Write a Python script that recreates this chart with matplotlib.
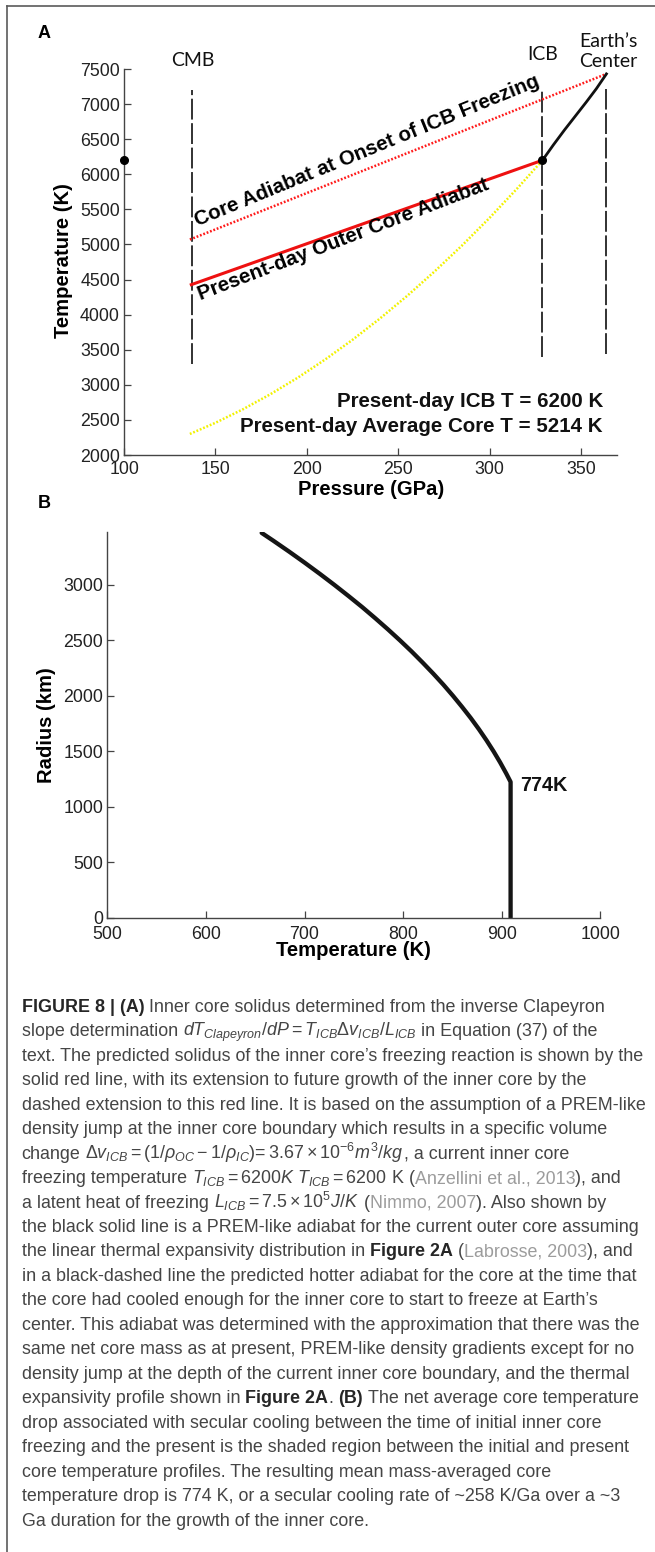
import matplotlib
matplotlib.use('Agg')
import matplotlib.pyplot as plt
from matplotlib.lines import Line2D
from matplotlib.font_manager import FontProperties

plt.rcParams['font.family'] = ['Liberation Sans', 'DejaVu Sans']
plt.rcParams['mathtext.fontset'] = 'custom'
plt.rcParams['mathtext.rm'] = 'Liberation Sans'
plt.rcParams['mathtext.it'] = 'Liberation Sans:italic'
plt.rcParams['mathtext.bf'] = 'Liberation Sans:bold'
plt.rcParams['lines.scale_dashes'] = False

W, H, DPI = 655, 1552, 100

# ---------------- Panel A data ----------------
pressure_ticks = [100, 150, 200, 250, 300, 350]
temp_ticks_A = [2000, 2500, 3000, 3500, 4000, 4500, 5000, 5500, 6000, 6500, 7000, 7500]
boundary_names = ['CMB', 'ICB', 'Earth\u2019s\nCenter']
boundary_P = [137, 329, 364]
boundary_Tlow = [3300, 3400, 3440]
boundary_Thigh = [7200, 7200, 7220]
label_P = [137.7, 329.1, 365.2]
label_T = [7628, 7700, 7747]

present_P = [136, 329]
present_T = [4420, 6200]
onset_P = [136, 364]
onset_T = [5070, 7430]
solidus_P = [136, 150, 165, 180, 195, 210, 225, 240, 255, 270, 285, 300, 315, 329]
solidus_T = [2300, 2459, 2651, 2865, 3101, 3360, 3641, 3944, 4269, 4617, 4986, 5378, 5793, 6200]
inner_P = [329, 335, 341, 347, 353, 358.5, 364]
inner_T = [6200, 6420, 6630, 6830, 7030, 7220, 7430]
dot_P = [329, 100]
dot_T = [6200, 6200]

# ---------------- Panel B data ----------------
tempB_ticks = [500, 600, 700, 800, 900, 1000]
radius_ticks = [0, 500, 1000, 1500, 2000, 2500, 3000]
drop_r = [0, 1224, 1300, 1400, 1500, 1600, 1700, 1800, 1900, 2000, 2100, 2200, 2300, 2400,
          2500, 2600, 2700, 2800, 2900, 3000, 3100, 3200, 3300, 3400, 3469]
drop_T = [909, 909, 904.6, 898.4, 891.7, 884.5, 876.8, 868.6, 859.8, 850.6, 840.9, 830.6,
          819.8, 808.6, 796.8, 784.5, 771.7, 758.5, 744.6, 730.3, 715.5, 700.2, 684.4,
          668.1, 656.5]

fig = plt.figure(figsize=(W / DPI, H / DPI), dpi=DPI)

def fx(px):
    return px / W

def fy(py):
    return 1 - py / H

TICKC = '#222222'
SPC = '#444444'

def style_axes(ax, xpad, ypad):
    for s in ['top', 'right']:
        ax.spines[s].set_visible(False)
    for s in ['left', 'bottom']:
        ax.spines[s].set_color(SPC)
        ax.spines[s].set_linewidth(1.0)
    ax.tick_params(direction='in', length=5, width=0.9, color=SPC, labelsize=12.8,
                   labelcolor=TICKC)
    ax.tick_params(axis='x', pad=xpad)
    ax.tick_params(axis='y', pad=ypad)

# ---------------- Panel A ----------------
axA = fig.add_axes([fx(124.1), fy(455), fx(617.4) - fx(124.1), fy(69) - fy(455)])
axA.set_xlim(100, 370)
axA.set_ylim(2000, 7500)
axA.set_xticks(pressure_ticks)
axA.set_yticks(temp_ticks_A)
style_axes(axA, 4.5, 3.0)

for p, lo, hi in zip(boundary_P, boundary_Tlow, boundary_Thigh):
    axA.plot([p, p], [lo, hi], color='#222222', lw=1.3, linestyle=(0, (15, 2.6)))

axA.plot(solidus_P, solidus_T, color='#f2f200', lw=1.8, linestyle=(0, (1.3, 1.3)))
axA.plot(onset_P, onset_T, color='#ff1a1a', lw=1.8, linestyle=(0, (1.3, 1.3)))
axA.plot(present_P, present_T, color='#ee1111', lw=2.2, solid_capstyle='butt')
axA.plot(inner_P, inner_T, color='#111111', lw=2.0)
axA.plot(dot_P, dot_T, 'o', color='black', ms=5.5, clip_on=False, zorder=5)

for name, p, t in zip(boundary_names, label_P, label_T):
    axA.text(p, t, name, ha='center', va='center', fontsize=14, family=['Lato', 'Liberation Sans'],
             color='#111111', linespacing=1.25)

axA.text(139.9, 5253, 'Core Adiabat at Onset of ICB Freezing', rotation=22.3,
         rotation_mode='anchor', ha='left', va='baseline', fontsize=14.8, fontweight='bold')
axA.text(142.0, 4199, 'Present-day Outer Core Adiabat', rotation=21.0,
         rotation_mode='anchor', ha='left', va='baseline', fontsize=14.8, fontweight='bold')
axA.text(362.1, 2759, 'Present-day ICB T = 6200 K', ha='right', va='center',
         fontsize=14.8, fontweight='bold', color='#111111')
axA.text(362.1, 2403, 'Present-day Average Core T = 5214 K', ha='right', va='center',
         fontsize=14.8, fontweight='bold', color='#111111')

axA.set_xlabel('Pressure (GPa)', fontsize=14.6, fontweight='bold', va='center')
axA.xaxis.set_label_coords(0.5, (455 - 489.3) / 386)
axA.set_ylabel('Temperature (K)', fontsize=14.6, fontweight='bold', va='center')
axA.yaxis.set_label_coords((63.2 - 124.1) / 493.3, 0.5026)

# ---------------- Panel B ----------------
axB = fig.add_axes([fx(107.4), fy(917.7), fx(600.3) - fx(107.4), fy(531.7) - fy(917.7)])
axB.set_xlim(500, 1000)
axB.set_ylim(0, 3480)
axB.set_xticks(tempB_ticks)
axB.set_yticks(radius_ticks)
style_axes(axB, 6.0, 3.0)
axB.plot(drop_T, drop_r, color='#151515', lw=3.1, solid_capstyle='round', solid_joinstyle='round')
axB.text(918.7, 1194, '774K', ha='left', va='center', fontsize=14.2, fontweight='bold',
         color='#111111')
axB.set_xlabel('Temperature (K)', fontsize=14.6, fontweight='bold', va='center')
axB.xaxis.set_label_coords(0.5, (917.7 - 951) / 386)
axB.set_ylabel('Radius (km)', fontsize=14.6, fontweight='bold', va='center')
axB.yaxis.set_label_coords((46.0 - 107.4) / 492.9, 0.4995)

# panel letters
fig.text(fx(43.9), fy(33.3), 'A', ha='center', va='center', fontsize=13, fontweight='bold')
fig.text(fx(43.9), fy(503.3), 'B', ha='center', va='center', fontsize=13, fontweight='bold')

# frame lines (top and left)
fig.add_artist(Line2D([fx(7.3), 1.0], [fy(6), fy(6)], color='#5a5a5a', lw=1.2,
                      transform=fig.transFigure))
fig.add_artist(Line2D([fx(7.3), fx(7.3)], [fy(6), 0.0], color='#5a5a5a', lw=1.2,
                      transform=fig.transFigure))

# ---------------- Caption ----------------
CAP_FS = 12.9
STY = {
    'n': dict(fontsize=CAP_FS, color='#454545'),
    'b': dict(fontsize=CAP_FS, color='#262626', fontweight='bold'),
    'g': dict(fontsize=CAP_FS, color='#9c9c9c'),
}
caption = [
    [("FIGURE 8 | (A)", 'b'), (" Inner core solidus determined from the inverse Clapeyron", 'n')],
    [("slope determination ", 'n'), (r"$dT_{Clapeyron}/dP = T_{ICB}\Delta v_{ICB}/L_{ICB}$", 'n'),
     (" in Equation (37) of the", 'n')],
    [("text. The predicted solidus of the inner core\u2019s freezing reaction is shown by the", 'n')],
    [("solid red line, with its extension to future growth of the inner core by the", 'n')],
    [("dashed extension to this red line. It is based on the assumption of a PREM-like", 'n')],
    [("density jump at the inner core boundary which results in a specific volume", 'n')],
    [("change ", 'n'),
     (r"$\Delta v_{ICB} = \left(1/\rho_{OC} - 1/\rho_{IC}\right)\!= 3.67 \times 10^{-6}m^3/kg$", 'n'),
     (", a current inner core", 'n')],
    [("freezing temperature ", 'n'), (r"$T_{ICB} = 6200K\ T_{ICB} = 6200$", 'n'), (" K (", 'n'),
     ("Anzellini et al., 2013", 'g'), ("), and", 'n')],
    [("a latent heat of freezing ", 'n'), (r"$L_{ICB} = 7.5 \times 10^5J/K$", 'n'), (" (", 'n'),
     ("Nimmo, 2007", 'g'), ("). Also shown by", 'n')],
    [("the black solid line is a PREM-like adiabat for the current outer core assuming", 'n')],
    [("the linear thermal expansivity distribution in ", 'n'), ("Figure 2A", 'b'), (" (", 'n'),
     ("Labrosse, 2003", 'g'), ("), and", 'n')],
    [("in a black-dashed line the predicted hotter adiabat for the core at the time that", 'n')],
    [("the core had cooled enough for the inner core to start to freeze at Earth\u2019s", 'n')],
    [("center. This adiabat was determined with the approximation that there was the", 'n')],
    [("same net core mass as at present, PREM-like density gradients except for no", 'n')],
    [("density jump at the depth of the current inner core boundary, and the thermal", 'n')],
    [("expansivity profile shown in ", 'n'), ("Figure 2A", 'b'), (". ", 'n'), ("(B)", 'b'),
     (" The net average core temperature", 'n')],
    [("drop associated with secular cooling between the time of initial inner core", 'n')],
    [("freezing and the present is the shaded region between the initial and present", 'n')],
    [("core temperature profiles. The resulting mean mass-averaged core", 'n')],
    [("temperature drop is 774 K, or a secular cooling rate of ~258 K/Ga over a ~3", 'n')],
    [("Ga duration for the growth of the inner core.", 'n')],
]

renderer = fig.canvas.get_renderer()

def space_width(sty):
    fp = FontProperties(family=['Liberation Sans'], size=STY[sty]['fontsize'],
                        weight=STY[sty].get('fontweight', 'normal'))
    w1 = renderer.get_text_width_height_descent('n n', fp, ismath=False)[0]
    w2 = renderer.get_text_width_height_descent('nn', fp, ismath=False)[0]
    return w1 - w2

X0 = 21.7
Y0 = 1011.7
DY = 24.48
for i, segs in enumerate(caption):
    y = Y0 + i * DY
    x = X0
    for txt, sty in segs:
        lead = len(txt) - len(txt.lstrip(' '))
        trail = len(txt) - len(txt.rstrip(' '))
        core = txt.strip(' ')
        sw = space_width(sty)
        x += lead * sw
        if core:
            t = fig.text(fx(x), fy(y), core, ha='left', va='baseline', **STY[sty])
            bb = t.get_window_extent(renderer)
            x = bb.x1
        x += trail * sw

fig.savefig('out.png', dpi=DPI)
